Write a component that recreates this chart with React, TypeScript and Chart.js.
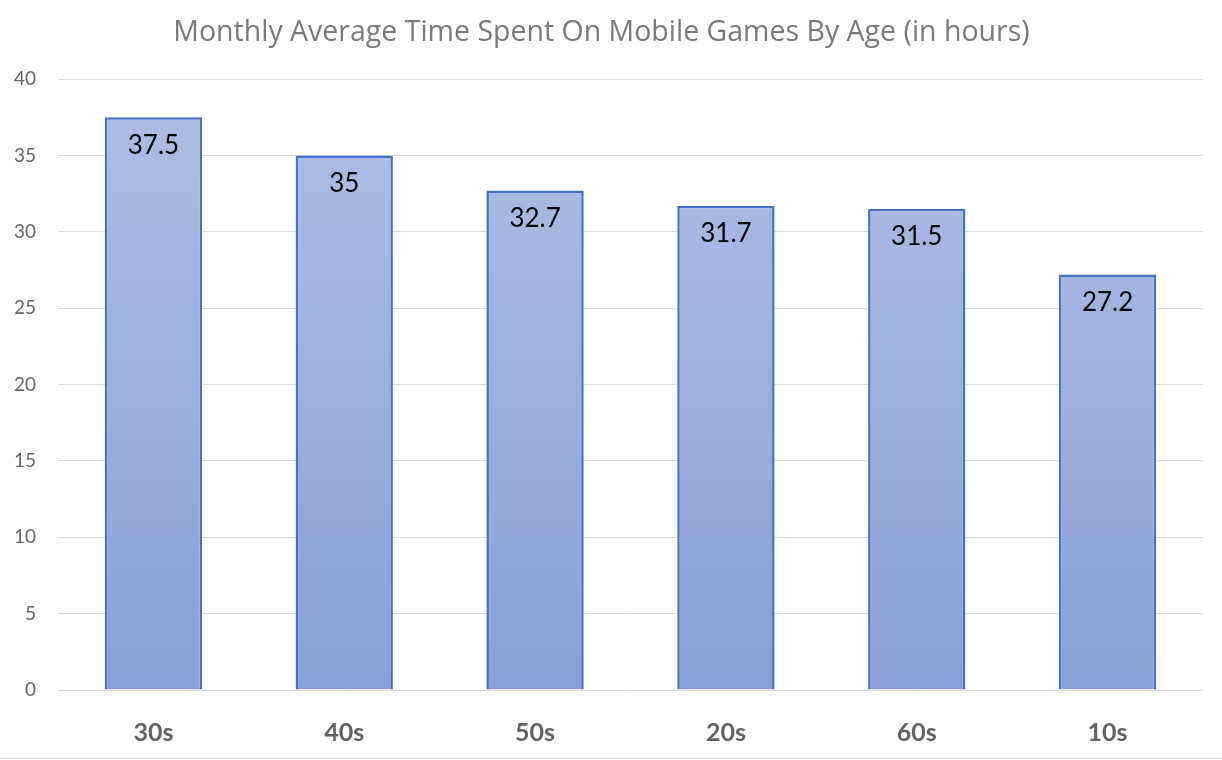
import React, { useEffect, useRef } from "react";
import { Chart, registerables } from "chart.js";

Chart.register(...registerables);

const titleText = "Monthly Average Time Spent On Mobile Games By Age (in hours)";
const categories = ["30s", "40s", "50s", "20s", "60s", "10s"];
const values = [37.5, 35, 32.7, 31.7, 31.5, 27.2];
const yMax = 40;
const yStep = 5;

const FONT = "Lato, 'Open Sans', sans-serif";
const TITLE_FONT = "'Open Sans', Lato, sans-serif";

const dataLabelPlugin = {
  id: "dataLabels",
  afterDatasetsDraw(chart: any) {
    const ctx = chart.ctx;
    const meta = chart.getDatasetMeta(0);
    ctx.save();
    ctx.fillStyle = "#000000";
    ctx.font = `26px ${FONT}`;
    ctx.textAlign = "center";
    ctx.textBaseline = "middle";
    meta.data.forEach((bar: any, i: number) => {
      ctx.fillText(String(values[i]), bar.x, bar.y + 28);
    });
    ctx.restore();
  },
};

export default function App() {
  const ref = useRef<HTMLCanvasElement>(null);
  useEffect(() => {
    if (!ref.current) return;
    const chart = new Chart(ref.current, {
      type: "bar",
      data: {
        labels: categories,
        datasets: [
          {
            data: values,
            backgroundColor: (c: any) => {
              const area = c.chart.chartArea;
              if (!area) return "#9aaddc";
              const g = c.chart.ctx.createLinearGradient(0, area.top, 0, area.bottom);
              g.addColorStop(0, "#b0bee4");
              g.addColorStop(1, "#88a0d5");
              return g;
            },
            borderColor: "#4472c4",
            borderWidth: 2.5,
            borderSkipped: "bottom",
            categoryPercentage: 1,
            barPercentage: 0.51,
          },
        ],
      },
      options: {
        animation: false,
        responsive: false,
        layout: { padding: { left: 0, right: 19, top: 0, bottom: 0 } },
        plugins: {
          legend: { display: false },
          tooltip: { enabled: false },
          title: {
            display: true,
            text: titleText,
            color: "#7a7a7a",
            font: { family: TITLE_FONT, size: 28.5, weight: "normal" },
            padding: { top: 16, bottom: 28.8 },
          },
        },
        scales: {
          x: {
            grid: { display: false },
            border: { display: false },
            ticks: {
              color: "#636363",
              font: { family: FONT, size: 25, weight: "bold" },
              padding: 20,
            },
            afterFit: (s: any) => {
              s.height = 68;
            },
          },
          y: {
            min: 0,
            max: yMax,
            ticks: {
              stepSize: yStep,
              color: "#666666",
              font: { family: FONT, size: 19 },
              padding: 22,
            },
            grid: { color: "#d9d9d9", lineWidth: 1, drawTicks: false },
            border: { display: false },
            afterFit: (s: any) => {
              s.width = 58;
            },
          },
        },
      },
      plugins: [dataLabelPlugin],
    });
    return () => chart.destroy();
  }, []);
  return (
    <div
      style={{
        position: "fixed",
        left: 0,
        top: 0,
        width: 1222,
        height: 760,
        background: "#ffffff",
      }}
    >
      <canvas ref={ref} width={1222} height={758} style={{ display: "block" }} />
      <div style={{ height: 1, background: "#d9d9d9", width: 1222 }} />
    </div>
  );
}
